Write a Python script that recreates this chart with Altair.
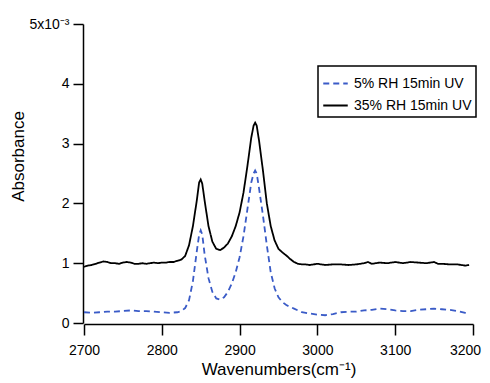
import altair as alt
import pandas as pd

# 35% RH 15min UV (black solid)
wn_35 = [2700, 2705, 2710, 2715, 2720, 2725, 2730, 2735, 2740, 2745, 2750, 2755, 2760, 2765, 2770,
         2775, 2780, 2785, 2790, 2795, 2800, 2805, 2810, 2815, 2820, 2825, 2830, 2835, 2840, 2845,
         2848, 2850, 2852, 2855, 2860, 2865, 2870, 2875, 2880, 2885, 2890, 2895, 2900, 2905, 2910,
         2915, 2918, 2920, 2922, 2925, 2930, 2935, 2940, 2945, 2950, 2955, 2960, 2965, 2970, 2975,
         2980, 2985, 2990, 2995, 3000, 3010, 3020, 3030, 3040, 3050, 3060, 3065, 3070, 3080, 3090,
         3100, 3110, 3120, 3130, 3140, 3150, 3155, 3160, 3170, 3180, 3190, 3195]
abs_35 = [0.94, 0.96, 0.97, 0.99, 1.01, 1.03, 1.02, 1.00, 1.00, 0.99, 1.01, 1.02, 1.01, 0.99, 0.99,
          1.00, 0.99, 1.00, 1.01, 1.00, 1.01, 1.01, 1.02, 1.02, 1.04, 1.06, 1.12, 1.30, 1.62, 2.05,
          2.35, 2.40, 2.33, 2.05, 1.62, 1.36, 1.24, 1.22, 1.26, 1.33, 1.45, 1.62, 1.85, 2.18, 2.62,
          3.10, 3.30, 3.35, 3.30, 3.05, 2.55, 2.00, 1.62, 1.38, 1.24, 1.18, 1.13, 1.07, 1.02, 0.99,
          0.98, 0.98, 0.97, 0.98, 0.99, 0.97, 0.98, 0.98, 0.97, 0.98, 1.00, 1.02, 0.99, 1.01, 1.00,
          1.02, 1.00, 1.02, 1.01, 1.00, 1.02, 0.99, 0.99, 0.98, 0.98, 0.96, 0.97]

# 5% RH 15min UV (blue dashed)
wn_5 = [2700, 2710, 2720, 2730, 2740, 2750, 2760, 2770, 2780, 2790, 2800, 2810, 2820, 2825, 2830,
        2835, 2840, 2845, 2848, 2850, 2852, 2855, 2860, 2865, 2870, 2875, 2880, 2885, 2890, 2895,
        2900, 2905, 2910, 2915, 2918, 2920, 2922, 2925, 2930, 2935, 2940, 2945, 2950, 2955, 2960,
        2965, 2970, 2975, 2980, 2990, 3000, 3010, 3020, 3030, 3040, 3050, 3060, 3070, 3080, 3090,
        3100, 3110, 3120, 3130, 3140, 3150, 3160, 3170, 3180, 3190, 3195]
abs_5 = [0.18, 0.17, 0.18, 0.19, 0.19, 0.20, 0.21, 0.20, 0.20, 0.19, 0.18, 0.17, 0.18, 0.20, 0.25,
         0.38, 0.70, 1.20, 1.48, 1.55, 1.48, 1.15, 0.75, 0.52, 0.41, 0.39, 0.43, 0.52, 0.66, 0.85,
         1.10, 1.45, 1.90, 2.35, 2.50, 2.55, 2.50, 2.25, 1.80, 1.30, 0.85, 0.58, 0.43, 0.35, 0.30,
         0.27, 0.24, 0.21, 0.18, 0.16, 0.14, 0.13, 0.15, 0.18, 0.19, 0.19, 0.21, 0.22, 0.24, 0.23,
         0.21, 0.20, 0.20, 0.22, 0.23, 0.24, 0.23, 0.22, 0.20, 0.17, 0.16]

series_names = ["5% RH 15min UV", "35% RH 15min UV"]
series_colors = ["#3a5bc7", "#000000"]
x_ticks = [2700, 2800, 2900, 3000, 3100, 3200]
y_ticks = [0, 1, 2, 3, 4, 5]

df = pd.concat([
    pd.DataFrame({"wn": wn_5, "a": abs_5, "s": series_names[0]}),
    pd.DataFrame({"wn": wn_35, "a": abs_35, "s": series_names[1]}),
])

FONT = "Liberation Sans"

chart = alt.Chart(df).mark_line(strokeWidth=1.8).encode(
    x=alt.X("wn:Q", scale=alt.Scale(domain=[2700, 3200], nice=False),
            axis=alt.Axis(title="Wavenumbers(cm⁻¹)", values=x_ticks, format="d",
                          grid=False, tickSize=11, labelPadding=8, titlePadding=4, offset=1,
                          labelOffset=alt.condition("datum.value == 3200", alt.value(-8), alt.value(0)),
                          labelFontSize=14, titleFontSize=17, titleFontWeight="normal",
                          labelFont=FONT, titleFont=FONT, labelColor="black",
                          titleColor="black", domainColor="black", tickColor="black",
                          domainWidth=1.5, tickWidth=1.5, labelFlush=False)),
    y=alt.Y("a:Q", scale=alt.Scale(domain=[0, 5], nice=False),
            axis=alt.Axis(title="Absorbance", values=y_ticks,
                          labelExpr="datum.value == 5 ? '5x10⁻³' : datum.label",
                          grid=False, tickSize=10, labelPadding=4, offset=1,
                          labelFontSize=14, titleFontSize=17, titleFontWeight="normal",
                          labelFont=FONT, titleFont=FONT, labelColor="black",
                          titleColor="black", domainColor="black", tickColor="black",
                          domainWidth=1.5, tickWidth=1.5, titleX=-56, titleY=132)),
    color=alt.Color("s:N", scale=alt.Scale(domain=series_names, range=series_colors),
                    legend=alt.Legend(title=None, orient="none", legendX=234, legendY=42,
                                      symbolType="stroke", symbolSize=600, symbolStrokeWidth=1.8,
                                      labelFontSize=14, labelFont=FONT, labelColor="black",
                                      strokeColor="black", padding=4, rowPadding=1,
                                      fillColor="white", labelOffset=5)),
    strokeDash=alt.StrokeDash("s:N", scale=alt.Scale(domain=series_names, range=[[6, 4], [1, 0]]),
                              legend=None),
    order=alt.Order("wn:Q"),
).properties(
    width=389, height=299,
    autosize=alt.AutoSizeParams(type="none"),
    padding={"left": 76, "top": 16, "right": 9, "bottom": 58},
).configure_view(stroke=None).configure_legend(strokeWidth=1.5)

chart.save("out.html", embed_options={"renderer": "svg", "actions": False})
